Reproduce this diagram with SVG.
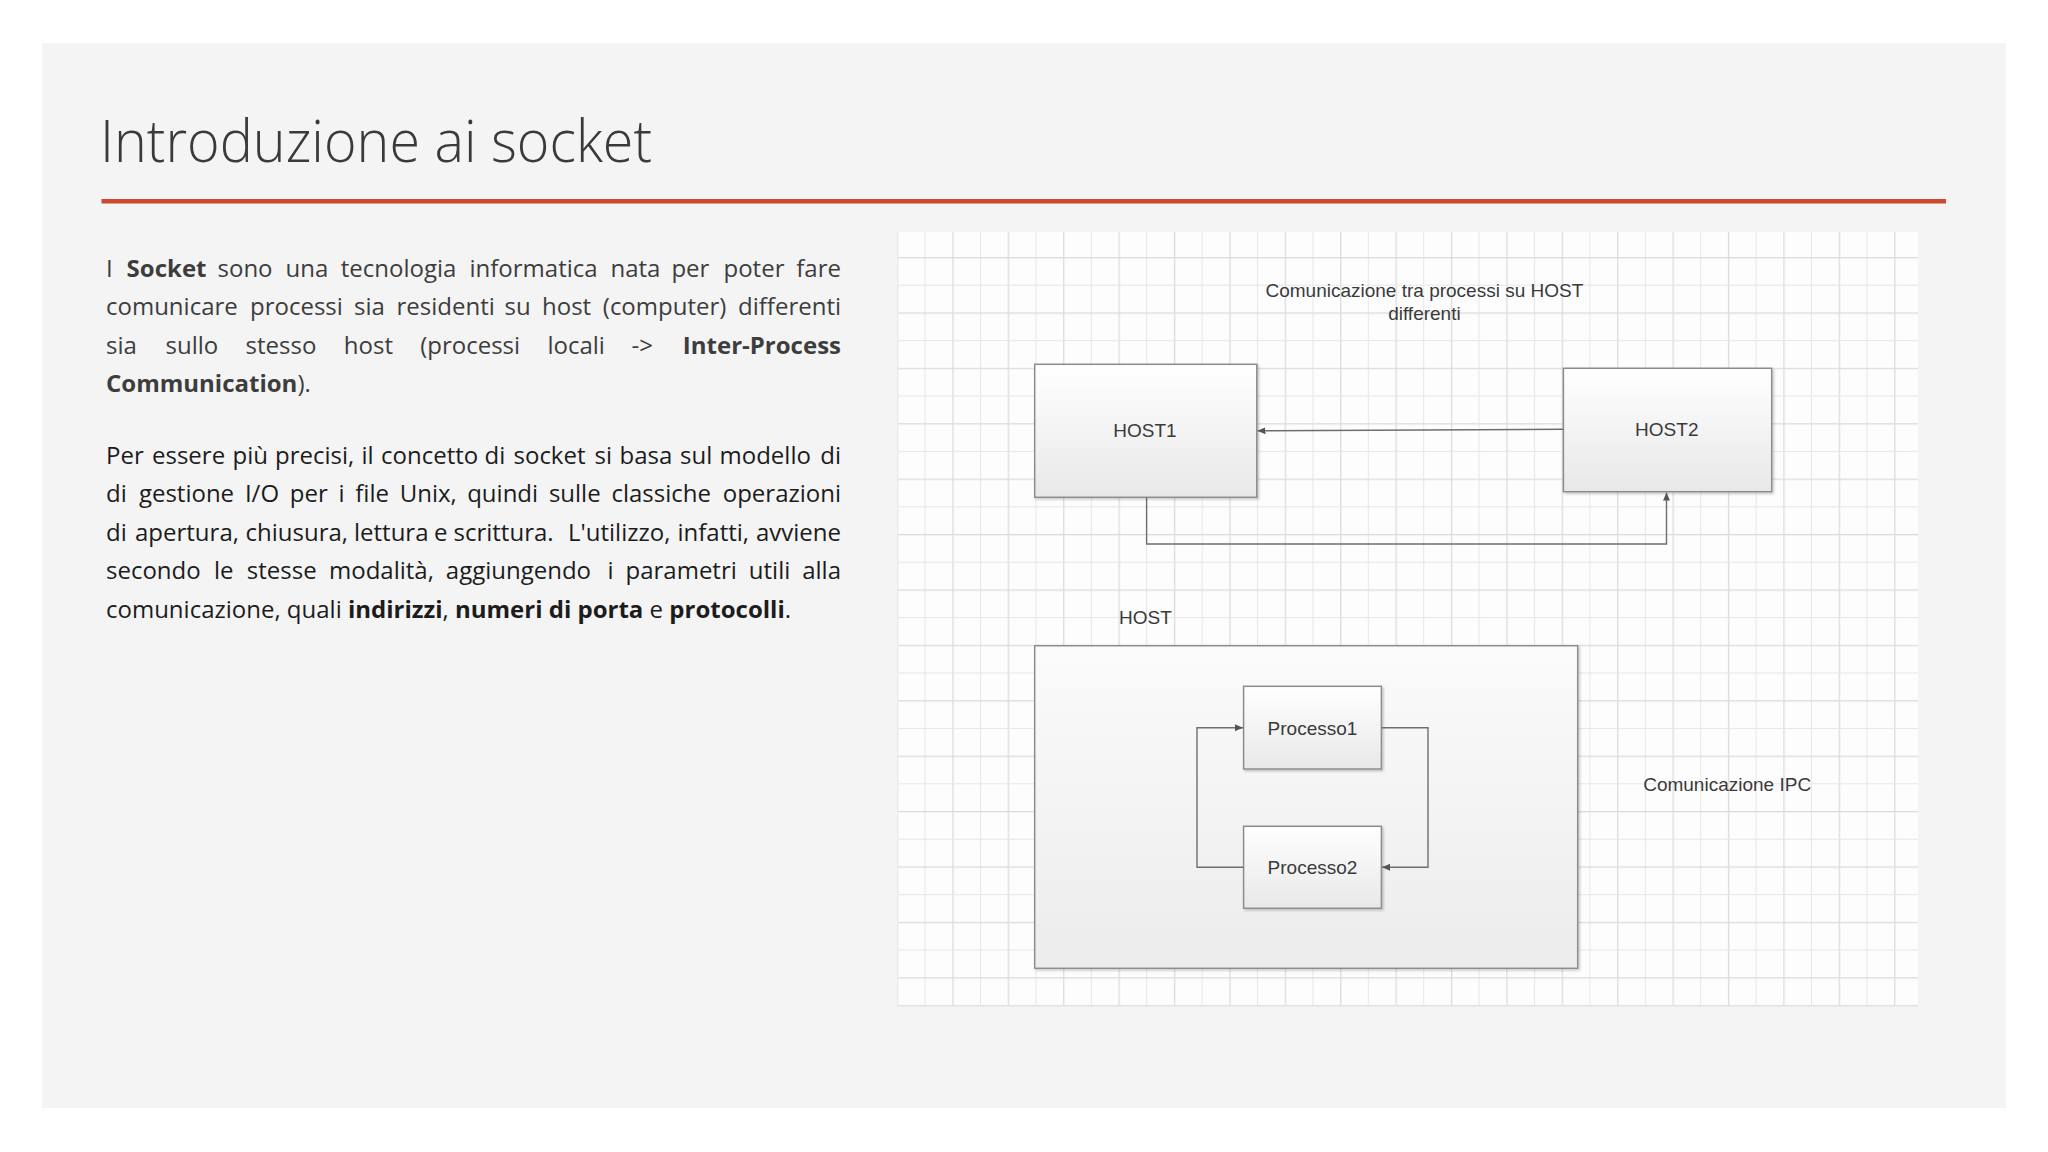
<svg xmlns="http://www.w3.org/2000/svg" width="2048" height="1152" viewBox="0 0 2048 1152">
  <style>
    .title { font-family: "Open Sans", "Noto Sans", sans-serif; font-weight: 300; font-size: 58px; fill: #3a3a3a; }
    .body { font-family: "Open Sans", "Noto Sans", sans-serif; font-size: 24px; }
    .p1 { fill: #3d3d3d; }
    .p2 { fill: #1c1c1c; }
    .b { font-weight: 700; }
    .end { text-anchor: end; }
    .lbl { font-family: "Liberation Sans", Arial, sans-serif; font-size: 19px; fill: #3a3a3a; }
    .mid { text-anchor: middle; }
    .box { stroke: #8c8c8c; stroke-width: 1.5; }
    .conn { fill: none; stroke: #6e6e6e; stroke-width: 1.4; }
  </style>
  <defs>
    <pattern id="grid" patternUnits="userSpaceOnUse" x="952.3" y="257" width="55.4" height="55.4">
      <rect width="55.4" height="55.4" fill="#fdfdfd"/>
      <rect x="0" y="0" width="1.3" height="55.4" fill="#dcdcdc"/>
      <rect x="27.7" y="0" width="1" height="55.4" fill="#e7e7e7"/>
      <rect x="0" y="0" width="55.4" height="1.3" fill="#dcdcdc"/>
      <rect x="0" y="27.7" width="55.4" height="1" fill="#e7e7e7"/>
    </pattern>
    <linearGradient id="boxgrad" x1="0" y1="0" x2="0" y2="1">
      <stop offset="0" stop-color="#ffffff"/>
      <stop offset="1" stop-color="#e8e8e8"/>
    </linearGradient>
    <linearGradient id="biggrad" x1="0" y1="0" x2="0" y2="1">
      <stop offset="0" stop-color="#fbfbfb"/>
      <stop offset="1" stop-color="#ececec"/>
    </linearGradient>
    <filter id="shadow" x="-5%" y="-5%" width="112%" height="112%">
      <feDropShadow dx="1.5" dy="1.5" stdDeviation="1" flood-color="#000" flood-opacity="0.22"/>
    </filter>
    <marker id="arrow" viewBox="0 0 8 7" refX="8" refY="3.5" markerWidth="8" markerHeight="7" markerUnits="userSpaceOnUse" orient="auto">
      <path d="M0,0 L8,3.5 L0,7 z" fill="#555"/>
    </marker>
  </defs>

  <!-- page and slide -->
  <rect x="0" y="0" width="2048" height="1152" fill="#ffffff"/>
  <rect id="slide" x="42" y="43" width="1964" height="1065" fill="#f4f4f4"/>

  <!-- title -->
  <g id="title">
    <text class="title" x="100" y="162" textLength="552" lengthAdjust="spacingAndGlyphs">Introduzione ai socket</text>
    <rect x="101.5" y="199" width="1844.5" height="4.5" fill="#cd4a2e"/>
  </g>

  <!-- body text -->
  <g id="body-text" class="body">
    <text class="p1" y="277"><tspan x="106">I</tspan><tspan x="126.6" class="b">Socket</tspan><tspan x="217.5">sono</tspan><tspan x="285.5">una</tspan><tspan x="340.8">tecnologia</tspan><tspan x="469.5">informatica</tspan><tspan x="610.5">nata</tspan><tspan x="671.4">per</tspan><tspan x="723.5">poter</tspan></text>
    <text class="p1 end" x="841" y="277">fare</text>

    <text class="p1" y="315.3"><tspan x="106">comunicare</tspan><tspan x="250">processi</tspan><tspan x="354">sia</tspan><tspan x="396.5">residenti</tspan><tspan x="504.5">su</tspan><tspan x="542">host</tspan><tspan x="602.8">(computer)</tspan></text>
    <text class="p1 end" x="841" y="315.3">differenti</text>

    <text class="p1" y="353.7"><tspan x="106">sia</tspan><tspan x="165.5">sullo</tspan><tspan x="245.6">stesso</tspan><tspan x="343.8">host</tspan><tspan x="420.2">(processi</tspan><tspan x="547.4">locali</tspan><tspan x="631.5">-&gt;</tspan></text>
    <text class="p1 end b" x="841" y="353.7">Inter-Process</text>

    <text class="p1" x="106" y="392"><tspan class="b">Communication</tspan>).</text>

    <text class="p2" y="464"><tspan x="106">Per</tspan><tspan x="152">essere</tspan><tspan x="232.6">più</tspan><tspan x="275">precisi,</tspan><tspan x="361.5">il</tspan><tspan x="381">concetto</tspan><tspan x="484.5">di</tspan><tspan x="513.5">socket</tspan><tspan x="594.5">si</tspan><tspan x="619.5">basa</tspan><tspan x="680">sul</tspan><tspan x="719.5">modello</tspan></text>
    <text class="p2 end" x="841" y="464">di</text>

    <text class="p2" y="502.4"><tspan x="106">di</tspan><tspan x="138.9">gestione</tspan><tspan x="244.9">I/O</tspan><tspan x="289.8">per</tspan><tspan x="338.5">i</tspan><tspan x="355.3">file</tspan><tspan x="399.7">Unix,</tspan><tspan x="467.2">quindi</tspan><tspan x="548.9">sulle</tspan><tspan x="611.4">classiche</tspan></text>
    <text class="p2 end" x="841" y="502.4">operazioni</text>

    <text class="p2" y="540.8"><tspan x="106">di</tspan><tspan x="135">apertura,</tspan><tspan x="245.5">chiusura,</tspan><tspan x="354">lettura</tspan><tspan x="434">e</tspan><tspan x="453.5">scrittura.</tspan><tspan x="568">L'utilizzo,</tspan><tspan x="677.5">infatti,</tspan></text>
    <text class="p2 end" x="841" y="540.8">avviene</text>

    <text class="p2" y="579.2"><tspan x="106">secondo</tspan><tspan x="214">le</tspan><tspan x="246.8">stesse</tspan><tspan x="329">modalità,</tspan><tspan x="445.8">aggiungendo</tspan><tspan x="607.5">i</tspan><tspan x="625.5">parametri</tspan><tspan x="748.8">utili</tspan></text>
    <text class="p2 end" x="841" y="579.2">alla</text>

    <text class="p2" x="106" y="617.6">comunicazione, quali <tspan class="b">indirizzi</tspan>, <tspan class="b">numeri di porta</tspan> e <tspan class="b">protocolli</tspan>.</text>
  </g>

  <!-- diagram canvas -->
  <g id="canvas">
    <rect x="897.6" y="232" width="1020.4" height="774" fill="url(#grid)"/>
    <rect x="897.6" y="1005" width="1020.4" height="1.5" fill="#e2e2e2"/>
  </g>

  <g id="caption-top">
    <text class="lbl mid" x="1424.4" y="297">Comunicazione tra processi su HOST</text>
    <text class="lbl mid" x="1424.4" y="319.5">differenti</text>
  </g>

  <g id="host1">
    <rect class="box" x="1034.7" y="364.3" width="222.1" height="133" fill="url(#boxgrad)" filter="url(#shadow)"/>
    <text class="lbl mid" x="1145" y="437">HOST1</text>
  </g>

  <g id="host2">
    <rect class="box" x="1563.4" y="368.3" width="208.3" height="123.4" fill="url(#boxgrad)" filter="url(#shadow)"/>
    <text class="lbl mid" x="1666.8" y="436">HOST2</text>
  </g>

  <g id="host-label">
    <text class="lbl" x="1119" y="624">HOST</text>
  </g>

  <g id="host">
    <rect class="box" x="1034.7" y="645.7" width="543" height="322.6" fill="url(#biggrad)" filter="url(#shadow)"/>
  </g>

  <g id="processo1">
    <rect class="box" x="1243.6" y="686.3" width="137.8" height="82.7" fill="url(#boxgrad)" filter="url(#shadow)"/>
    <text class="lbl mid" x="1312.5" y="734.5">Processo1</text>
  </g>

  <g id="processo2">
    <rect class="box" x="1243.6" y="826.3" width="137.8" height="82" fill="url(#boxgrad)" filter="url(#shadow)"/>
    <text class="lbl mid" x="1312.5" y="874">Processo2</text>
  </g>

  <g id="ipc-label">
    <text class="lbl" x="1643.2" y="790.7">Comunicazione IPC</text>
  </g>

  <g id="connectors">
    <path class="conn" d="M1563.4,429.3 L1257.5,430.8" marker-end="url(#arrow)"/>
    <path class="conn" d="M1146.6,497.3 V544 H1666.5 V492.5" marker-end="url(#arrow)"/>
    <path class="conn" d="M1243.6,867.3 H1197 V727.7 H1243" marker-end="url(#arrow)"/>
    <path class="conn" d="M1381.4,727.7 H1428 V867.3 H1382" marker-end="url(#arrow)"/>
  </g>
</svg>
